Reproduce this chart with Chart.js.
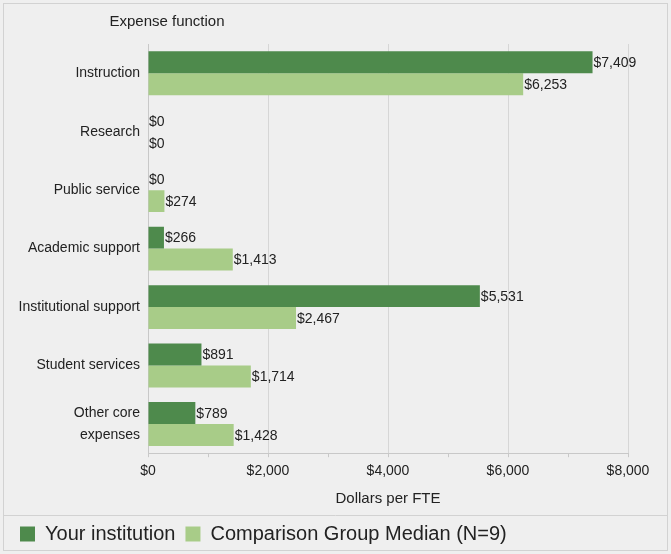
<!DOCTYPE html>
<html>
<head>
<meta charset="utf-8">
<script src="https://cdn.jsdelivr.net/npm/chart.js@4/dist/chart.umd.min.js"></script>
<style>
  html, body { margin: 0; padding: 0; background: #efefef; }
  #wrap { width: 671px; height: 554px; }
</style>
</head>
<body>
<div id="wrap"><canvas id="myChart" width="671" height="554"></canvas></div>
<script>
const categories = ['Instruction', 'Research', 'Public service', 'Academic support',
    'Institutional support', 'Student services', ['Other core', 'expenses']];
const yourInstitution = [7409, 0, 0, 266, 5531, 891, 789];
const groupMedian = [6253, 0, 274, 1413, 2467, 1714, 1428];
const xTicks = [0, 2000, 4000, 6000, 8000];

const FONT = "'Liberation Sans Narrow', 'Liberation Sans', Arial, sans-serif";
const money = v => '$' + v.toLocaleString('en-US');

// frame, heading, legend separator and value labels
const decor = {
    id: 'decor',
    beforeDraw(chart) {
        const c = chart.ctx;
        c.save();
        c.fillStyle = '#efefef';
        c.fillRect(0, 0, chart.width, chart.height);
        c.restore();
    },
    afterDraw(chart) {
        const c = chart.ctx;
        c.save();
        c.strokeStyle = '#d2d2d2';
        c.lineWidth = 1;
        c.strokeRect(3.5, 3.5, chart.width - 7, chart.height - 7);
        c.beginPath();
        c.moveTo(4, 515.5);
        c.lineTo(chart.width - 4, 515.5);
        c.stroke();

        c.fillStyle = '#222';
        c.font = '15px ' + FONT;
        c.textAlign = 'center';
        c.textBaseline = 'middle';
        c.fillText('Expense function', 167, 22);

        c.font = '14px ' + FONT;
        c.textAlign = 'left';
        chart.data.datasets.forEach((ds, i) => {
            chart.getDatasetMeta(i).data.forEach((bar, j) => {
                c.fillText(money(ds.data[j]), bar.x + 1, bar.y + 1);
            });
        });
        c.restore();
    }
};

new Chart(document.getElementById('myChart'), {
    type: 'bar',
    data: {
        labels: categories,
        datasets: [{
            label: 'Your institution',
            data: yourInstitution,
            backgroundColor: '#4e8a4c'
        }, {
            label: 'Comparison Group Median (N=9)',
            data: groupMedian,
            backgroundColor: '#a8cc88'
        }]
    },
    options: {
        indexAxis: 'y',
        responsive: false,
        animation: false,
        datasets: {
            bar: { barPercentage: 1, categoryPercentage: 0.75 }
        },
        layout: {
            padding: { left: 10, right: 43, top: 44, bottom: 0 }
        },
        scales: {
            x: {
                min: 0,
                max: 8000,
                afterBuildTicks: axis => {
                    axis.ticks = [0, 1000, 2000, 3000, 4000, 5000, 6000, 7000, 8000].map(v => ({ value: v }));
                },
                grid: {
                    color: ctx => (xTicks.includes(ctx.tick && ctx.tick.value) ? '#d6d6d6' : 'rgba(0,0,0,0)'),
                    tickColor: '#c8c8c8',
                    tickLength: 4
                },
                border: { color: '#c8c8c8' },
                ticks: {
                    color: '#222',
                    font: { family: FONT, size: 14 },
                    padding: 6,
                    autoSkip: false,
                    maxRotation: 0,
                    callback: v => (xTicks.includes(v) ? money(v) : '')
                },
                title: {
                    display: true,
                    text: 'Dollars per FTE',
                    color: '#222',
                    font: { family: FONT, size: 15 },
                    padding: { top: 4, bottom: 6 }
                }
            },
            y: {
                afterFit: axis => { axis.width = 138; },
                grid: { display: false, drawTicks: false },
                border: { color: '#c8c8c8' },
                ticks: {
                    color: '#222',
                    font: { family: FONT, size: 14, lineHeight: 1.6 },
                    padding: 8
                }
            }
        },
        plugins: {
            legend: {
                position: 'bottom',
                align: 'start',
                labels: {
                    color: '#222',
                    font: { family: FONT, size: 20 },
                    boxWidth: 15,
                    boxHeight: 15,
                    padding: 10
                }
            },
            tooltip: { enabled: false }
        }
    },
    plugins: [decor]
});
</script>
</body>
</html>
